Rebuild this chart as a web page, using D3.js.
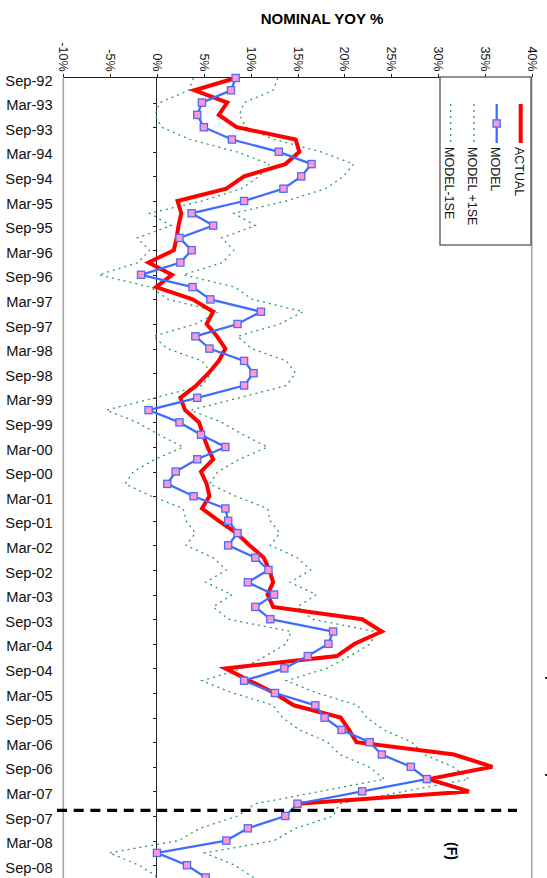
<!DOCTYPE html>
<meta charset="utf-8">
<style>
body { margin: 0; background: #fff; }
svg { display: block; font-family: "Liberation Sans", Arial, sans-serif; }
.title { font-size: 15px; font-weight: bold; }
.xaxis text { font-size: 12.5px; fill: #111; }
.xaxis path, .xaxis line { stroke: #222; shape-rendering: crispEdges; }
.yaxis text { font-size: 14.7px; fill: #111; }
.yaxis path, .yaxis line { stroke: #222; shape-rendering: crispEdges; }
.legend text { font-size: 12.5px; fill: #111; }
</style>
<body>
<script src="https://cdn.jsdelivr.net/npm/d3@7"></script>
<script>
// quarterly categories (top to bottom)
var quarters = ["Sep-92","Dec-92","Mar-93","Jun-93","Sep-93","Dec-93","Mar-94","Jun-94","Sep-94","Dec-94",
  "Mar-95","Jun-95","Sep-95","Dec-95","Mar-96","Jun-96","Sep-96","Dec-96","Mar-97","Jun-97",
  "Sep-97","Dec-97","Mar-98","Jun-98","Sep-98","Dec-98","Mar-99","Jun-99","Sep-99","Dec-99",
  "Mar-00","Jun-00","Sep-00","Dec-00","Mar-01","Jun-01","Sep-01","Dec-01","Mar-02","Jun-02",
  "Sep-02","Dec-02","Mar-03","Jun-03","Sep-03","Dec-03","Mar-04","Jun-04","Sep-04","Dec-04",
  "Mar-05","Jun-05","Sep-05","Dec-05","Mar-06","Jun-06","Sep-06","Dec-06","Mar-07","Jun-07",
  "Sep-07","Dec-07","Mar-08","Jun-08","Sep-08","Dec-08"];

var tickLabels = ["Sep-92","Mar-93","Sep-93","Mar-94","Sep-94","Mar-95","Sep-95","Mar-96","Sep-96","Mar-97",
  "Sep-97","Mar-98","Sep-98","Mar-99","Sep-99","Mar-00","Sep-00","Mar-01","Sep-01","Mar-02",
  "Sep-02","Mar-03","Sep-03","Mar-04","Sep-04","Mar-05","Sep-05","Mar-06","Sep-06","Mar-07",
  "Sep-07","Mar-08","Sep-08"];

var pctTicks = [-10, -5, 0, 5, 10, 15, 20, 25, 30, 35, 40];

// nominal yoy %, actual (ends Jun-07)
var actual = [8.4, 4.0, 7.5, 6.6, 8.5, 14.8, 15.2, 13.7, 9.3, 7.4,
  2.2, 2.6, 2.3, 2.1, 1.8, -0.9, 1.6, -0.1, 3.8, 6.0,
  5.3, 6.4, 7.3, 6.6, 5.5, 4.2, 2.5, 3.0, 4.5, 4.9,
  5.4, 6.0, 4.7, 5.3, 5.6, 4.8, 6.6, 8.5, 9.9, 11.4,
  12.0, 12.4, 11.8, 12.4, 21.9, 24.0, 21.1, 19.2, 7.3, 9.9,
  12.5, 14.6, 19.6, 20.5, 21.3, 31.7, 35.8, 29.0, 33.3, 15.0];

var model = [8.4, 7.9, 4.8, 4.3, 5.0, 8.0, 13.0, 16.5, 15.4, 13.5,
  9.3, 3.7, 6.0, 2.4, 3.7, 2.5, -1.7, 3.8, 5.7, 11.1,
  8.6, 4.1, 5.6, 9.3, 10.3, 9.3, 4.3, -0.9, 2.4, 4.7,
  7.3, 4.3, 2.0, 1.1, 3.9, 7.3, 7.6, 8.6, 7.6, 10.5,
  11.9, 9.7, 12.5, 10.5, 12.1, 18.8, 18.3, 16.1, 13.6, 9.3,
  12.6, 16.9, 17.9, 19.7, 22.7, 24.0, 27.1, 28.8, 21.9, 15.0,
  13.7, 9.7, 7.4, 0.0, 3.2, 5.2];

var modelPlus = [12.9, 12.4, 9.3, 8.8, 9.5, 12.5, 17.5, 21.0, 19.9, 18.0,
  13.8, 8.2, 10.5, 6.9, 8.2, 7.0, 2.8, 8.3, 10.2, 15.6,
  13.1, 8.6, 10.1, 13.8, 14.8, 13.8, 8.8, 3.6, 6.9, 9.2,
  11.8, 8.8, 6.5, 5.6, 8.4, 11.8, 12.1, 13.1, 12.1, 15.0,
  16.4, 14.2, 17.0, 15.0, 16.6, 23.3, 22.8, 20.6, 18.1, 13.8,
  17.1, 21.4, 22.4, 24.2, 27.2, 28.5, 31.6, 33.3, 26.4, 19.5,
  18.8, 14.8, 12.5, 5.1, 8.3, 10.3];

var modelMinus = [3.9, 3.4, 0.3, -0.2, 0.5, 3.5, 8.5, 12.0, 10.9, 9.0,
  4.8, -0.8, 1.5, -2.1, -0.8, -2.0, -6.2, -0.7, 1.2, 6.6,
  4.1, -0.4, 1.1, 4.8, 5.8, 4.8, -0.2, -5.4, -2.1, 0.2,
  2.8, -0.2, -2.5, -3.4, -0.6, 2.8, 3.1, 4.1, 3.1, 6.0,
  7.4, 5.2, 8.0, 6.0, 7.6, 14.3, 13.8, 11.6, 9.1, 4.8,
  8.1, 12.4, 13.4, 15.2, 18.2, 19.5, 22.6, 24.3, 17.4, 10.5,
  8.6, 4.6, 2.3, -5.1, -1.9, 0.1];

var forecastFrom = 59.55; // position of the forecast divider, in quarters

var W = 547, H = 878;
var svg = d3.select("body").append("svg").attr("width", W).attr("height", H);

var x = d3.scaleLinear().domain([-10, 40]).range([63.3, 531.7]);
var yi = d3.scaleLinear().domain([0, quarters.length - 1]).range([78, 877.5]);
var y = function(q) { return yi(quarters.indexOf(q)); };

var axTop = 77;

svg.append("text").attr("class", "title")
  .attr("x", 322).attr("y", 24).attr("text-anchor", "middle")
  .text("NOMINAL YOY %");

// frame (left/right grey sides)
svg.append("line").attr("x1", x(-10)).attr("x2", x(-10)).attr("y1", axTop).attr("y2", H)
  .attr("stroke", "#a8a8a8").attr("stroke-width", 1.6);
svg.append("line").attr("x1", x(40)).attr("x2", x(40)).attr("y1", axTop).attr("y2", H)
  .attr("stroke", "#a8a8a8").attr("stroke-width", 1.6);

// value axis along the top
var gx = svg.append("g").attr("class", "xaxis")
  .attr("transform", "translate(0," + axTop + ")")
  .call(d3.axisTop(x).tickValues(pctTicks).tickFormat(function(d) { return d + "%"; })
    .tickSize(3.5).tickSizeOuter(0));
gx.selectAll("text")
  .attr("transform", "rotate(90)")
  .attr("x", -5.5).attr("y", 0).attr("dy", "0.35em")
  .style("text-anchor", "end");

// category axis sitting on 0%
var gy = svg.append("g").attr("class", "yaxis")
  .attr("transform", "translate(" + x(0) + ",0)")
  .call(d3.axisLeft(d3.scalePoint().domain(quarters).range([78, 877.5]))
    .tickValues(tickLabels).tickSize(3.5).tickSizeOuter(0));
gy.select(".domain").attr("d", "M0," + axTop + "V" + H);
gy.selectAll(".tick line").filter(function(d) { return d === "Sep-92"; }).remove();
gy.selectAll("text").attr("x", x(-10) - x(0) - 10.6).attr("dy", "0.35em")
  .attr("transform", "translate(0,2)");

// top axis line over everything on the frame
gx.raise();

var line = d3.line().x(function(d) { return x(d.v); }).y(function(d) { return yi(d.i); });
function pts(arr) { return arr.map(function(v, i) { return {i: i, v: v}; }); }

// +/- 1 SE dotted
[modelPlus, modelMinus].forEach(function(s) {
  svg.append("path").datum(pts(s)).attr("d", line)
    .attr("fill", "none").attr("stroke", "#2f9a62").attr("stroke-width", 1.3)
    .attr("stroke-dasharray", "2,4");
});

// actual
svg.append("path").datum(pts(actual)).attr("d", line)
  .attr("fill", "none").attr("stroke", "#ff0000").attr("stroke-width", 4)
  .attr("stroke-linejoin", "miter");

// model
svg.append("path").datum(pts(model)).attr("d", line)
  .attr("fill", "none").attr("stroke", "#3f6cff").attr("stroke-width", 2.3);
svg.selectAll(".mk").data(pts(model)).enter().append("rect").attr("class", "mk")
  .attr("x", function(d) { return x(d.v) - 3.6; })
  .attr("y", function(d) { return yi(d.i) - 3.6; })
  .attr("width", 7.2).attr("height", 7.2)
  .attr("fill", "#ff99cc").attr("stroke", "#4a6cff").attr("stroke-width", 1.3);

// forecast divider
svg.append("line")
  .attr("x1", 57).attr("x2", 517)
  .attr("y1", yi(forecastFrom)).attr("y2", yi(forecastFrom))
  .attr("stroke", "#000").attr("stroke-width", 3.3).attr("stroke-dasharray", "10,6.7");

svg.append("text")
  .attr("transform", "translate(451.5," + 851 + ") rotate(90)")
  .attr("text-anchor", "middle").attr("dy", "0.35em")
  .style("font-size", "14px").style("font-weight", "bold")
  .text("(F)");

// small stray marks at the right edge
[678, 775].forEach(function(yy) {
  svg.append("rect").attr("x", 545).attr("y", yy - 1).attr("width", 2).attr("height", 2).attr("fill", "#333");
});

// legend
var lg = svg.append("g").attr("class", "legend");
lg.append("rect").attr("x", 440).attr("y", axTop).attr("width", 91).attr("height", 168)
  .attr("fill", "#fff").attr("stroke", "#555").attr("stroke-width", 1.3);
var items = [
  {name: "ACTUAL", cx: 520.7, color: "#ff0000", w: 4, dash: null, marker: false},
  {name: "MODEL", cx: 496.7, color: "#3f6cff", w: 2.3, dash: null, marker: true},
  {name: "MODEL +1SE", cx: 474, color: "#2f9a62", w: 1.3, dash: "2,4", marker: false},
  {name: "MODEL-1SE", cx: 450.7, color: "#2f9a62", w: 1.3, dash: "2,4", marker: false}
];
items.forEach(function(it) {
  lg.append("line").attr("x1", it.cx).attr("x2", it.cx).attr("y1", 104).attr("y2", 143)
    .attr("stroke", it.color).attr("stroke-width", it.w)
    .attr("stroke-dasharray", it.dash);
  if (it.marker) {
    lg.append("rect").attr("x", it.cx - 3.6).attr("y", 123.5 - 3.6).attr("width", 7.2).attr("height", 7.2)
      .attr("fill", "#ff99cc").attr("stroke", "#4a6cff").attr("stroke-width", 1.3);
  }
  lg.append("text")
    .attr("transform", "translate(" + (it.cx - 1.5) + ",147) rotate(90)")
    .attr("dy", "0.35em")
    .text(it.name);
});
</script>
</body>
